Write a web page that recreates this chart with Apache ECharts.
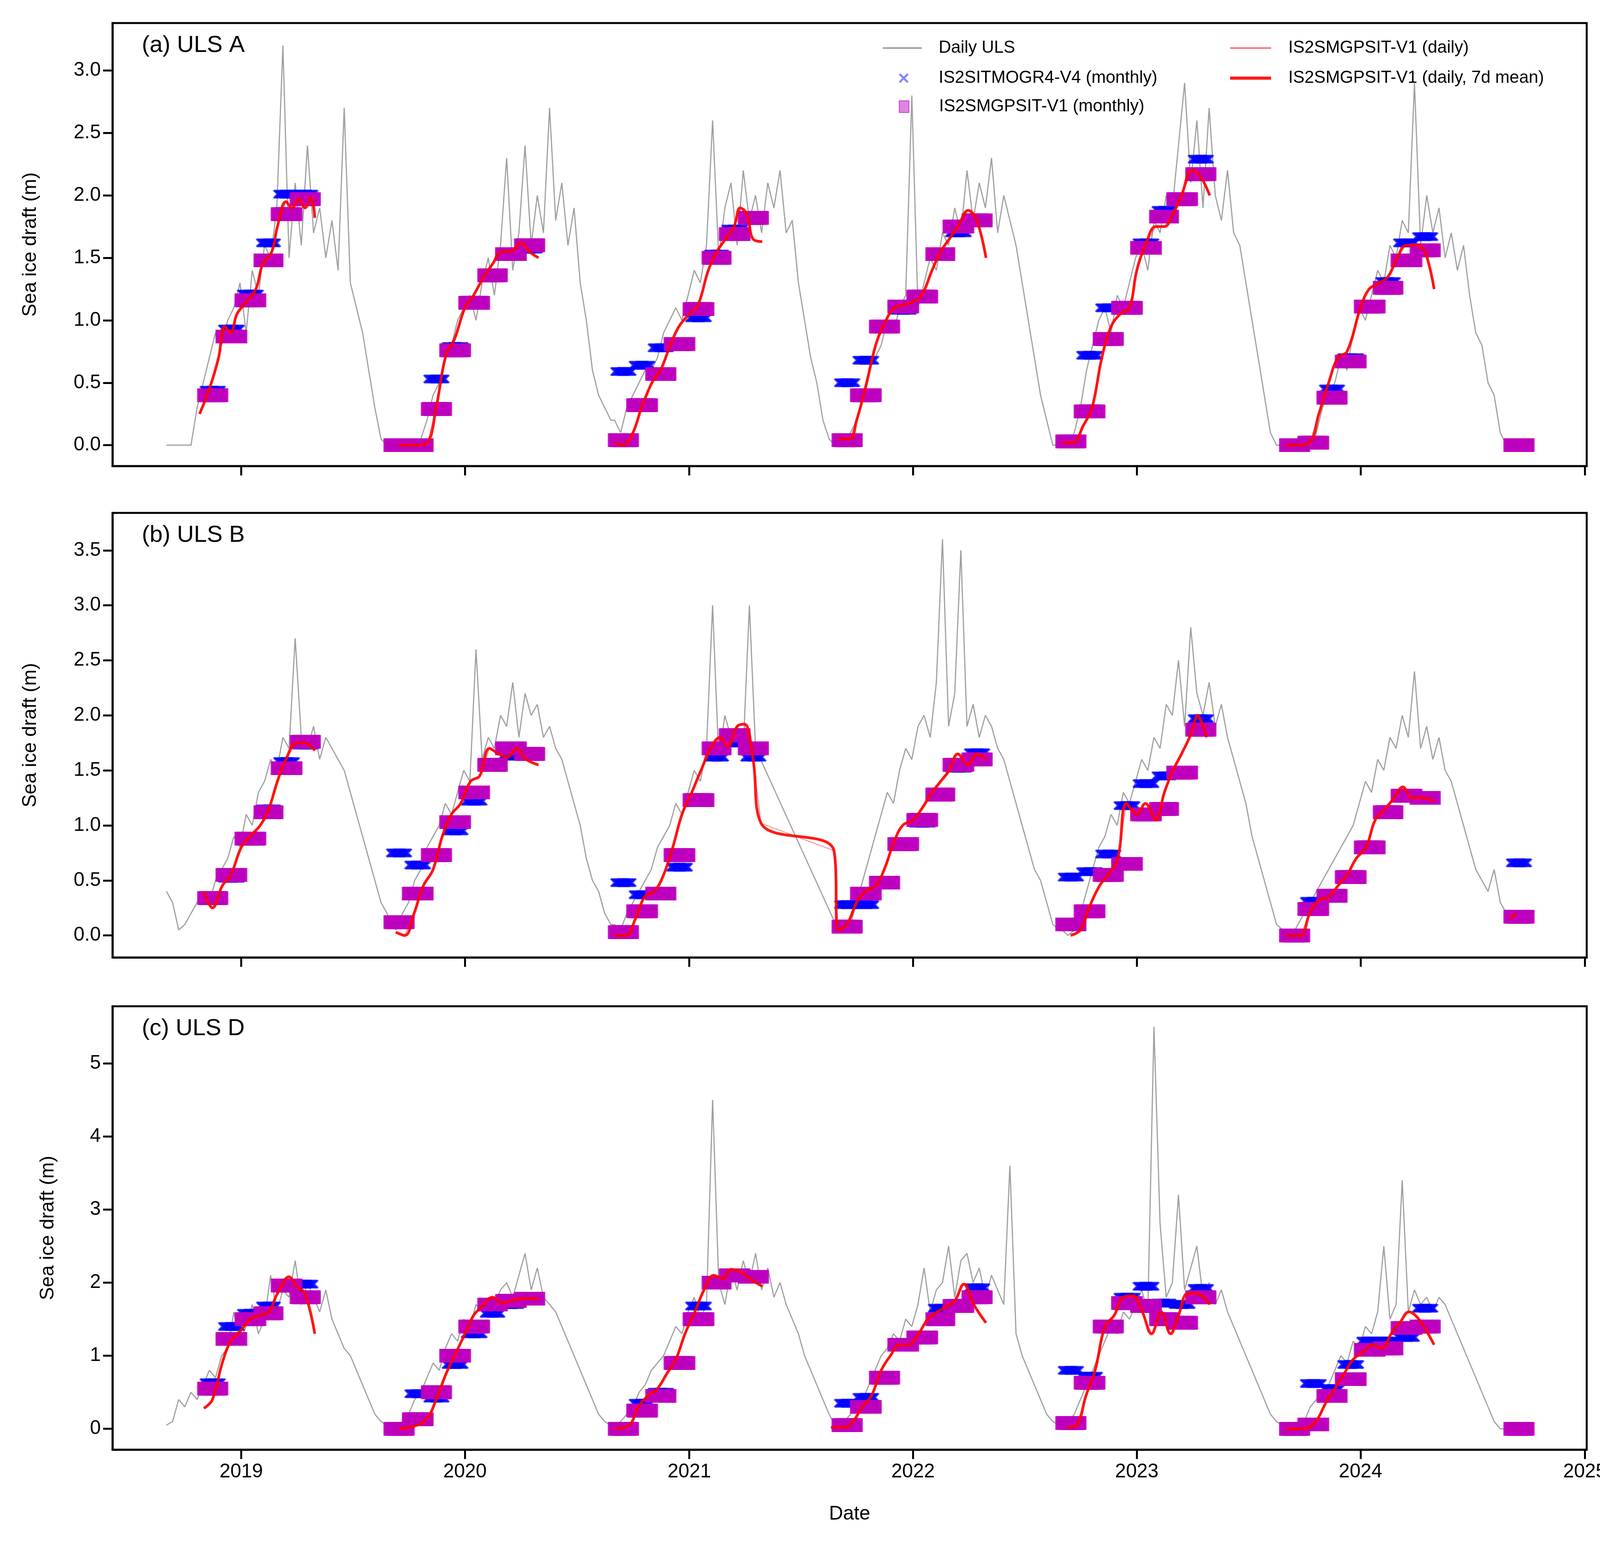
<!DOCTYPE html>
<html><head><meta charset="utf-8">
<script src="https://cdn.jsdelivr.net/npm/echarts@6/dist/echarts.min.js"></script>
<style>html,body{margin:0;padding:0;background:#fff}#c{width:4177px;height:3973px}</style>
</head><body><div id="c"></div>
<script>
// ---------- DATA ----------
const panelLabels = ['(a) ULS A','(b) ULS B','(c) ULS D'];
const yTicksA = [0,0.5,1.0,1.5,2.0,2.5,3.0];
const yTicksB = [0,0.5,1.0,1.5,2.0,2.5,3.0,3.5];
const yTicksC = [0,1,2,3,4,5];
const xYears = [2019,2020,2021,2022,2023,2024,2025];

// Daily ULS, 10-day samples starting 1 Sep of each season year
const ulsA = {
 2018:[0,0,0,0,0,0.3,0.5,0.7,0.9,0.8,1.0,1.1,1.3,0.9,1.4,1.2,1.6,1.5,1.9,3.2,1.5,2.1,1.6,2.4,1.7,1.9,1.5,1.8,1.4,2.7,1.3,1.1,0.9,0.6,0.3,0.05,0],
 2019:[0,0,0,0,0,0.05,0.2,0.4,0.5,0.7,0.8,1.0,1.1,1.2,1.0,1.3,1.5,1.2,1.6,2.3,1.4,1.7,2.4,1.6,2.0,1.7,2.7,1.8,2.1,1.6,1.9,1.3,1.0,0.6,0.4,0.3,0.2],
 2020:[0.2,0.1,0.3,0.4,0.5,0.6,0.6,0.7,0.9,1.0,1.1,1.0,1.2,1.4,1.3,1.6,2.6,1.5,1.9,2.1,1.6,2.2,1.8,2.0,1.7,2.1,1.9,2.2,1.7,1.8,1.3,1.0,0.7,0.5,0.2,0.05,0],
 2021:[0,0,0.1,0.2,0.4,0.6,0.7,0.8,1.0,0.9,1.1,1.2,2.8,1.1,1.3,1.5,1.4,1.7,1.6,1.9,1.7,2.2,1.8,2.1,1.9,2.3,1.7,2.0,1.8,1.6,1.3,1.0,0.7,0.4,0.2,0,0],
 2022:[0,0,0.1,0.3,0.6,0.8,1.0,1.1,0.9,1.2,1.1,1.3,1.5,1.6,1.4,1.8,1.7,2.0,1.9,2.4,2.9,2.1,2.6,1.9,2.7,2.0,1.8,2.2,1.7,1.6,1.3,1.0,0.7,0.4,0.1,0,0],
 2023:[0,0,0,0,0,0.1,0.3,0.4,0.5,0.7,0.6,0.9,1.1,1.0,1.2,1.4,1.3,1.6,1.5,1.8,1.7,2.9,1.6,2.0,1.7,1.9,1.5,1.7,1.4,1.6,1.2,0.9,0.8,0.5,0.4,0.1,0]
};
const ulsB = {
 2018:[0.4,0.3,0.05,0.1,0.2,0.3,0.4,0.3,0.5,0.6,0.7,0.9,0.8,1.1,1.0,1.3,1.4,1.6,1.5,1.8,1.7,2.7,1.8,1.7,1.9,1.6,1.8,1.7,1.6,1.5,1.3,1.1,0.9,0.7,0.5,0.3,0.2],
 2019:[0.1,0.05,0.2,0.3,0.5,0.6,0.8,0.9,1.0,1.2,1.1,1.3,1.5,1.4,2.6,1.6,1.8,1.7,2.0,1.9,2.3,1.8,2.2,2.0,2.1,1.8,1.9,1.7,1.6,1.4,1.2,1.0,0.7,0.5,0.4,0.2,0.1],
 2020:[0.1,0.05,0.2,0.3,0.4,0.5,0.6,0.8,0.9,1.0,1.2,1.1,1.3,1.5,1.4,1.7,3.0,1.6,2.0,1.8,1.9,1.7,3.0,1.7],
 2021:[0.05,0.02,0.1,0.3,0.5,0.7,0.9,1.1,1.3,1.2,1.5,1.7,1.6,1.9,2.0,1.8,2.3,3.6,1.9,2.2,3.5,1.9,2.1,1.8,2.0,1.9,1.7,1.6,1.4,1.2,1.0,0.8,0.6,0.5,0.3,0.1,0.05],
 2022:[0.05,0.0,0.05,0.2,0.4,0.6,0.8,0.9,1.1,1.0,1.3,1.2,1.4,1.6,1.5,1.8,1.7,2.1,2.0,2.5,1.9,2.8,2.2,2.0,2.3,1.9,2.1,1.8,1.6,1.4,1.2,0.9,0.7,0.5,0.3,0.1,0.05],
 2023:[0.0,0.0,0.1,0.2,0.3,0.4,0.5,0.6,0.7,0.8,0.9,1.0,1.2,1.4,1.3,1.6,1.5,1.8,1.7,2.0,1.8,2.4,1.7,1.9,1.6,1.8,1.5,1.4,1.2,1.0,0.8,0.6,0.5,0.4,0.6,0.3,0.2]
};
const ulsC = {
 2018:[0.05,0.1,0.4,0.3,0.5,0.4,0.6,0.8,0.7,1.0,1.1,1.6,1.2,1.4,1.7,1.3,1.5,2.1,1.6,1.9,1.8,2.3,1.7,2.0,1.8,1.6,1.9,1.5,1.3,1.1,1.0,0.8,0.6,0.4,0.2,0.1,0.05],
 2019:[0.05,0.0,0.1,0.2,0.4,0.5,0.7,0.9,0.8,1.1,1.3,1.2,1.5,1.4,1.7,1.6,1.8,1.7,1.9,2.0,1.8,2.1,2.4,1.9,2.2,1.8,1.7,1.6,1.4,1.2,1.0,0.8,0.6,0.4,0.2,0.1,0.05],
 2020:[0.05,0.1,0.2,0.3,0.5,0.6,0.8,0.9,1.0,1.2,1.4,1.3,1.6,1.8,1.5,1.7,4.5,2.0,1.7,2.2,1.9,2.3,2.0,2.4,1.9,2.2,1.8,2.0,1.7,1.5,1.3,1.0,0.8,0.6,0.4,0.2,0.05],
 2021:[0.05,0.1,0.2,0.3,0.4,0.6,0.8,1.0,1.1,1.3,1.2,1.5,1.4,1.7,2.2,1.6,1.9,2.0,2.5,1.8,2.3,2.4,2.0,2.2,1.8,2.1,1.9,1.7,3.6,1.3,1.0,0.8,0.6,0.4,0.2,0.1,0.05],
 2022:[0.05,0.1,0.2,0.4,0.6,0.8,1.0,1.2,1.4,1.3,1.6,1.5,1.7,1.9,1.6,5.5,2.8,1.8,2.0,3.2,1.9,2.2,2.5,1.8,2.0,1.7,1.9,1.6,1.4,1.2,1.0,0.8,0.6,0.4,0.2,0.1,0.05],
 2023:[0.0,0.0,0.05,0.1,0.3,0.4,0.5,0.6,0.8,1.0,0.9,1.2,1.1,1.4,1.3,1.6,2.5,1.5,1.7,3.4,1.6,1.9,1.7,1.8,1.6,1.8,1.7,1.5,1.3,1.1,0.9,0.7,0.5,0.3,0.1,0.0,0.0]
};

// Monthly products: [startYear, startMonth, values...]
const mogrA = [[2018,11,[0.44,0.93,1.21,1.62,2.01,2.01]],[2019,9,[null,0.0,0.53,0.79,1.14,1.36,1.53,1.57]],[2020,9,[0.59,0.64,0.78,0.81,1.02,1.53,1.73,1.82]],[2021,9,[0.50,0.68,0.96,1.08,1.20,1.53,1.70,1.80]],[2022,9,[0.03,0.72,1.10,1.10,1.62,1.88,1.97,2.29]],[2023,9,[0.0,0.02,0.45,0.70,1.12,1.31,1.62,1.67]],[2024,9,[0.0]]];
const smgA  = [[2018,11,[0.40,0.87,1.16,1.48,1.85,1.97]],[2019,9,[0.0,0.0,0.29,0.76,1.14,1.36,1.53,1.60]],[2020,9,[0.04,0.32,0.57,0.81,1.09,1.50,1.69,1.82]],[2021,9,[0.04,0.40,0.95,1.11,1.19,1.53,1.75,1.80]],[2022,9,[0.03,0.27,0.85,1.10,1.58,1.83,1.97,2.17]],[2023,9,[0.0,0.02,0.38,0.67,1.11,1.26,1.48,1.56]],[2024,9,[0.0]]];
const mogrB = [[2018,11,[0.34,0.52,0.88,1.15,1.58,1.73]],[2019,9,[0.75,0.64,0.72,0.95,1.22,1.55,1.63,1.63]],[2020,9,[0.48,0.37,0.40,0.62,1.23,1.62,1.75,1.62]],[2021,9,[0.28,0.28,0.48,0.83,1.02,1.28,1.52,1.66]],[2022,9,[0.53,0.58,0.74,1.18,1.38,1.45,1.48,1.97]],[2023,9,[0.0,0.31,0.35,0.53,0.80,1.12,1.27,1.25]],[2024,9,[0.66]]];
const smgB  = [[2018,11,[0.34,0.55,0.88,1.12,1.52,1.76]],[2019,9,[0.12,0.38,0.73,1.03,1.30,1.55,1.70,1.65]],[2020,9,[0.03,0.22,0.38,0.73,1.23,1.70,1.82,1.70]],[2021,9,[0.08,0.38,0.48,0.83,1.05,1.28,1.55,1.60]],[2022,9,[0.10,0.22,0.55,0.65,1.10,1.15,1.48,1.87]],[2023,9,[0.0,0.24,0.36,0.53,0.80,1.12,1.27,1.25]],[2024,9,[0.17]]];
const mogrC = [[2018,11,[0.63,1.40,1.58,1.68,1.96,1.98]],[2019,9,[0.0,0.48,0.42,0.88,1.30,1.58,1.70,1.78]],[2020,9,[0.0,0.35,0.50,0.90,1.68,1.97,2.10,2.10]],[2021,9,[0.35,0.43,0.72,1.17,1.25,1.65,1.70,1.93]],[2022,9,[0.80,0.72,1.40,1.80,1.95,1.72,1.70,1.92]],[2023,9,[0.0,0.62,0.55,0.88,1.20,1.20,1.25,1.65]],[2024,9,[0.0]]];
const smgC  = [[2018,11,[0.55,1.23,1.50,1.58,1.96,1.80]],[2019,9,[0.0,0.13,0.50,1.00,1.40,1.70,1.75,1.78]],[2020,9,[0.0,0.25,0.45,0.90,1.50,2.00,2.10,2.08]],[2021,9,[0.05,0.30,0.70,1.15,1.25,1.50,1.68,1.80]],[2022,9,[0.08,0.63,1.40,1.72,1.68,1.50,1.45,1.80]],[2023,9,[0.0,0.06,0.45,0.68,1.08,1.10,1.38,1.40]],[2024,9,[0.0]]];

// 7-day mean of IS2SMGPSIT daily, segments
const redA = [
 [['2018-10-25',0.25],['2018-11-10',0.45],['2018-11-25',0.7],['2018-12-05',0.95],['2018-12-15',0.9],['2018-12-25',1.05],['2019-01-10',1.15],['2019-01-25',1.25],['2019-02-05',1.45],['2019-02-20',1.55],['2019-03-01',1.75],['2019-03-15',1.95],['2019-03-25',1.9],['2019-04-05',1.97],['2019-04-15',1.9],['2019-04-25',1.98],['2019-05-01',1.82]],
 [['2019-09-15',0.0],['2019-10-15',0.0],['2019-11-01',0.02],['2019-11-15',0.3],['2019-12-01',0.72],['2019-12-15',0.85],['2020-01-01',1.1],['2020-01-15',1.2],['2020-02-01',1.35],['2020-02-15',1.45],['2020-03-01',1.55],['2020-03-15',1.55],['2020-04-01',1.62],['2020-04-15',1.55],['2020-04-30',1.5]],
 [['2020-09-01',0.02],['2020-09-15',0.0],['2020-10-01',0.1],['2020-10-15',0.3],['2020-11-01',0.5],['2020-11-15',0.6],['2020-12-01',0.8],['2020-12-15',0.95],['2021-01-01',1.05],['2021-01-15',1.12],['2021-02-01',1.4],['2021-02-15',1.55],['2021-03-01',1.65],['2021-03-15',1.75],['2021-03-25',1.9],['2021-04-05',1.85],['2021-04-15',1.65],['2021-04-30',1.63]],
 [['2021-09-01',0.05],['2021-09-20',0.05],['2021-10-01',0.2],['2021-10-15',0.45],['2021-11-01',0.8],['2021-11-15',0.97],['2021-12-01',1.1],['2021-12-15',1.12],['2022-01-01',1.15],['2022-01-15',1.2],['2022-02-01',1.4],['2022-02-15',1.55],['2022-03-01',1.65],['2022-03-15',1.75],['2022-04-01',1.88],['2022-04-15',1.8],['2022-04-30',1.5]],
 [['2022-09-01',0.02],['2022-09-20',0.02],['2022-10-05',0.15],['2022-10-20',0.3],['2022-11-05',0.7],['2022-11-20',0.95],['2022-12-05',1.05],['2022-12-20',1.1],['2023-01-01',1.4],['2023-01-15',1.6],['2023-02-01',1.75],['2023-02-15',1.75],['2023-03-01',1.85],['2023-03-15',2.0],['2023-04-01',2.2],['2023-04-15',2.15],['2023-04-30',2.0]],
 [['2023-09-01',0.0],['2023-09-20',0.0],['2023-10-10',0.02],['2023-10-25',0.25],['2023-11-10',0.5],['2023-11-25',0.7],['2023-12-10',0.75],['2024-01-01',1.1],['2024-01-15',1.25],['2024-02-01',1.3],['2024-02-15',1.35],['2024-03-01',1.5],['2024-03-15',1.6],['2024-04-01',1.6],['2024-04-15',1.55],['2024-04-30',1.25]]
];
const redB = [
 [['2018-11-01',0.4],['2018-11-15',0.25],['2018-12-01',0.45],['2018-12-15',0.55],['2019-01-01',0.8],['2019-01-15',0.9],['2019-02-01',1.0],['2019-02-15',1.15],['2019-03-01',1.4],['2019-03-15',1.6],['2019-04-01',1.75],['2019-04-15',1.75],['2019-05-01',1.68]],
 [['2019-09-10',0.03],['2019-09-25',0.0],['2019-10-10',0.2],['2019-10-25',0.45],['2019-11-10',0.6],['2019-11-25',0.9],['2019-12-10',1.1],['2019-12-25',1.2],['2020-01-10',1.4],['2020-01-25',1.45],['2020-02-10',1.7],['2020-02-25',1.65],['2020-03-10',1.62],['2020-03-25',1.7],['2020-04-10',1.6],['2020-04-30',1.55]],
 [['2020-09-01',0.0],['2020-09-20',0.0],['2020-10-05',0.15],['2020-10-20',0.35],['2020-11-05',0.4],['2020-11-20',0.55],['2020-12-05',0.8],['2020-12-20',1.1],['2021-01-05',1.3],['2021-01-20',1.5],['2021-02-05',1.7],['2021-02-20',1.8],['2021-03-05',1.72],['2021-03-20',1.9],['2021-04-01',1.92],['2021-04-15',1.6],['2021-04-28',1.02],['2021-08-25',0.77],['2021-09-01',0.05],['2021-09-15',0.1],['2021-10-01',0.3],['2021-10-15',0.4],['2021-11-01',0.45],['2021-11-15',0.6],['2021-12-01',0.85],['2021-12-15',1.0],['2022-01-01',1.05],['2022-01-15',1.15],['2022-02-01',1.3],['2022-02-15',1.4],['2022-03-01',1.5],['2022-03-15',1.65],['2022-04-01',1.55],['2022-04-15',1.65],['2022-04-30',1.6]],
 [['2022-09-15',0.0],['2022-10-01',0.05],['2022-10-15',0.25],['2022-11-01',0.45],['2022-11-15',0.55],['2022-12-01',0.7],['2022-12-15',1.2],['2023-01-01',1.1],['2023-01-15',1.2],['2023-02-01',1.05],['2023-02-15',1.3],['2023-03-01',1.5],['2023-03-15',1.65],['2023-04-01',1.85],['2023-04-10',2.0],['2023-04-25',1.8]],
 [['2023-09-01',0.0],['2023-09-25',0.0],['2023-10-10',0.2],['2023-10-25',0.32],['2023-11-10',0.35],['2023-11-25',0.45],['2023-12-10',0.55],['2023-12-25',0.7],['2024-01-10',0.8],['2024-01-25',1.05],['2024-02-10',1.15],['2024-02-25',1.25],['2024-03-10',1.35],['2024-03-25',1.25],['2024-04-10',1.25],['2024-04-30',1.22]],
 [['2024-09-01',0.15],['2024-09-10',0.2]]
];
const redC = [
 [['2018-11-01',0.28],['2018-11-15',0.4],['2018-12-01',0.9],['2018-12-15',1.2],['2019-01-01',1.35],['2019-01-15',1.5],['2019-02-01',1.55],['2019-02-15',1.6],['2019-03-01',1.85],['2019-03-20',2.08],['2019-04-01',1.95],['2019-04-15',1.85],['2019-05-01',1.3]],
 [['2019-09-15',0.0],['2019-10-15',0.05],['2019-11-01',0.15],['2019-11-15',0.4],['2019-12-01',0.75],['2019-12-15',1.0],['2020-01-01',1.3],['2020-01-15',1.55],['2020-02-01',1.7],['2020-02-15',1.8],['2020-03-01',1.72],['2020-03-15',1.75],['2020-04-01',1.78],['2020-04-30',1.78]],
 [['2020-09-01',0.0],['2020-09-25',0.05],['2020-10-10',0.3],['2020-10-25',0.45],['2020-11-10',0.55],['2020-11-25',0.75],['2020-12-10',0.95],['2020-12-25',1.3],['2021-01-10',1.6],['2021-01-25',1.9],['2021-02-10',2.1],['2021-02-25',2.05],['2021-03-10',2.18],['2021-03-25',2.15],['2021-04-10',2.05],['2021-04-30',1.95]],
 [['2021-08-20',0.02],['2021-09-10',0.02],['2021-09-25',0.1],['2021-10-10',0.3],['2021-10-25',0.45],['2021-11-10',0.8],['2021-11-25',1.0],['2021-12-10',1.15],['2021-12-25',1.15],['2022-01-10',1.3],['2022-01-25',1.5],['2022-02-10',1.6],['2022-02-25',1.68],['2022-03-10',1.75],['2022-03-25',1.98],['2022-04-10',1.7],['2022-04-30',1.45]],
 [['2022-09-10',0.02],['2022-09-25',0.05],['2022-10-10',0.45],['2022-10-25',0.8],['2022-11-10',1.4],['2022-11-25',1.55],['2022-12-10',1.8],['2022-12-25',1.82],['2023-01-10',1.6],['2023-01-25',1.3],['2023-02-10',1.6],['2023-02-25',1.3],['2023-03-10',1.55],['2023-03-25',1.85],['2023-04-10',1.85],['2023-04-30',1.7]],
 [['2023-09-01',0.0],['2023-10-01',0.0],['2023-10-20',0.1],['2023-11-05',0.35],['2023-11-20',0.55],['2023-12-05',0.75],['2023-12-20',0.95],['2024-01-05',1.05],['2024-01-20',1.15],['2024-02-05',1.1],['2024-02-20',1.3],['2024-03-05',1.45],['2024-03-20',1.6],['2024-04-05',1.5],['2024-04-30',1.15]]
];

// ---------- BUILD ----------
const DAY = 86400000;
function ulsSeries(obj){const out=[];Object.keys(obj).sort().forEach(y=>{const t0=Date.UTC(+y,8,1);obj[y].forEach((v,k)=>out.push([t0+k*10*DAY,v]));});return out;}
function monthPts(list){const out=[];list.forEach(([y,m,vals])=>{vals.forEach((v,i)=>{if(v==null)return;const d0=Date.UTC(y,m-1+i,1),d1=Date.UTC(y,m+i,1);for(let t=d0;t<d1;t+=DAY)out.push([t,v]);});});return out;}
function redPts(segs){const out=[];segs.forEach(s=>{s.forEach(([d,v])=>out.push([Date.parse(d+'T00:00:00Z'),v]));out.push([Date.parse(s[s.length-1][0]+'T00:00:00Z')+DAY,'-']);});return out;}

const FONT='Liberation Sans, Arial, sans-serif';
const grids=[{top:59,height:1134},{top:1313,height:1138},{top:2576,height:1135}];
const yr=[[-0.167,3.38,yTicksA,185],[-0.2,3.84,yTicksB,185],[-0.285,5.78,yTicksC,140]];
const uls=[ulsA,ulsB,ulsC], mogr=[mogrA,mogrB,mogrC], smg=[smgA,smgB,smgC], red=[redA,redB,redC];
const xMin=Date.UTC(2018,5,5), xMax=Date.UTC(2025,0,4);
const yearTicks=xYears.map(y=>Date.UTC(y,0,1));
const xSym='path://M0,1.5L1.5,0L5,3.5L8.5,0L10,1.5L6.5,5L10,8.5L8.5,10L5,6.5L1.5,10L0,8.5L3.5,5Z';
const LF=44;
function leg(name,left,top,w,h,icon,pad){return {left:left,top:top,orient:'vertical',itemWidth:w,itemHeight:h,icon:icon,
  textStyle:{fontSize:LF,color:'#000',fontFamily:FONT,padding:[0,0,0,pad]},data:[name]};}

const option={backgroundColor:'#fff',animation:false,textStyle:{fontFamily:FONT},
 grid:grids.map(g=>({left:288,width:3774,top:g.top,height:g.height,show:true,borderColor:'#000',borderWidth:5,backgroundColor:'transparent'})),
 xAxis:grids.map((g,i)=>({type:'value',gridIndex:i,min:xMin,max:xMax,
   axisLine:{show:true,onZero:false,lineStyle:{color:'#000',width:5}},splitLine:{show:false},
   axisTick:{show:true,length:24,lineStyle:{color:'#000',width:5},customValues:yearTicks},
   axisLabel:{show:i===2,fontSize:50,color:'#000',margin:32,fontFamily:FONT,customValues:yearTicks,formatter:v=>String(new Date(v).getUTCFullYear())},
   name:i===2?'Date':'',nameLocation:'middle',nameGap:140,nameTextStyle:{fontSize:50,color:'#000',fontFamily:FONT}})),
 yAxis:grids.map((g,i)=>({type:'value',gridIndex:i,min:yr[i][0],max:yr[i][1],
   axisLine:{show:true,onZero:false,lineStyle:{color:'#000',width:5}},splitLine:{show:false},
   axisTick:{show:true,length:24,lineStyle:{color:'#000',width:5},customValues:yr[i][2]},
   axisLabel:{fontSize:50,color:'#000',margin:30,fontFamily:FONT,customValues:yr[i][2],formatter:v=>i===2?String(v):v.toFixed(1)},
   name:'Sea ice draft (m)',nameLocation:'middle',nameGap:yr[i][3],nameRotate:90,nameTextStyle:{fontSize:50,color:'#000',fontFamily:FONT}})),
 title:panelLabels.map((t,i)=>({text:t,left:358,top:grids[i].top+22,textStyle:{fontSize:60,fontWeight:'normal',color:'#000',fontFamily:FONT}})),
 legend:[
  leg('Daily ULS',2255,96,100,4,'rect',38),
  leg('IS2SITMOGR4-V4 (monthly)',2296,173,25,25,xSym,72),
  leg('IS2SMGPSIT-V1 (monthly)',2296,246,25,30,'rect',72),
  leg('IS2SMGPSIT-V1 (daily)',3144,96,105,4,'rect',39),
  leg('IS2SMGPSIT-V1 (daily, 7d mean)',3144,173,105,8,'rect',39)
 ],
 series:[]
};
for(let i=0;i<3;i++){
 option.series.push({name:'Daily ULS',type:'line',xAxisIndex:i,yAxisIndex:i,data:ulsSeries(uls[i]),showSymbol:false,symbol:'none',lineStyle:{color:'#a0a0a0',width:3},itemStyle:{color:'#a0a0a0'},z:1});
 option.series.push({name:'IS2SITMOGR4-V4 (monthly)',type:'scatter',xAxisIndex:i,yAxisIndex:i,data:monthPts(mogr[i]),symbol:xSym,symbolSize:24,itemStyle:{color:'rgba(0,0,255,0.6)'},z:2});
 option.series.push({name:'IS2SMGPSIT-V1 (monthly)',type:'scatter',xAxisIndex:i,yAxisIndex:i,data:monthPts(smg[i]),symbol:'rect',symbolSize:32,itemStyle:{color:'rgba(191,0,191,0.6)',borderColor:'rgba(191,0,191,0.85)',borderWidth:3},z:3});
 option.series.push({name:'IS2SMGPSIT-V1 (daily)',type:'line',xAxisIndex:i,yAxisIndex:i,data:redPts(red[i]),showSymbol:false,symbol:'none',lineStyle:{color:'rgba(255,0,0,0.5)',width:2},itemStyle:{color:'rgba(255,110,110,1)'},z:4});
 option.series.push({name:'IS2SMGPSIT-V1 (daily, 7d mean)',type:'line',xAxisIndex:i,yAxisIndex:i,data:redPts(red[i]),smooth:0.4,showSymbol:false,symbol:'none',lineStyle:{color:'rgba(255,0,0,0.9)',width:7},itemStyle:{color:'#ff1a1a'},z:5});
}
const chart=echarts.init(document.getElementById('c'),null,{renderer:'canvas'});
chart.setOption(option);
</script></body></html>
